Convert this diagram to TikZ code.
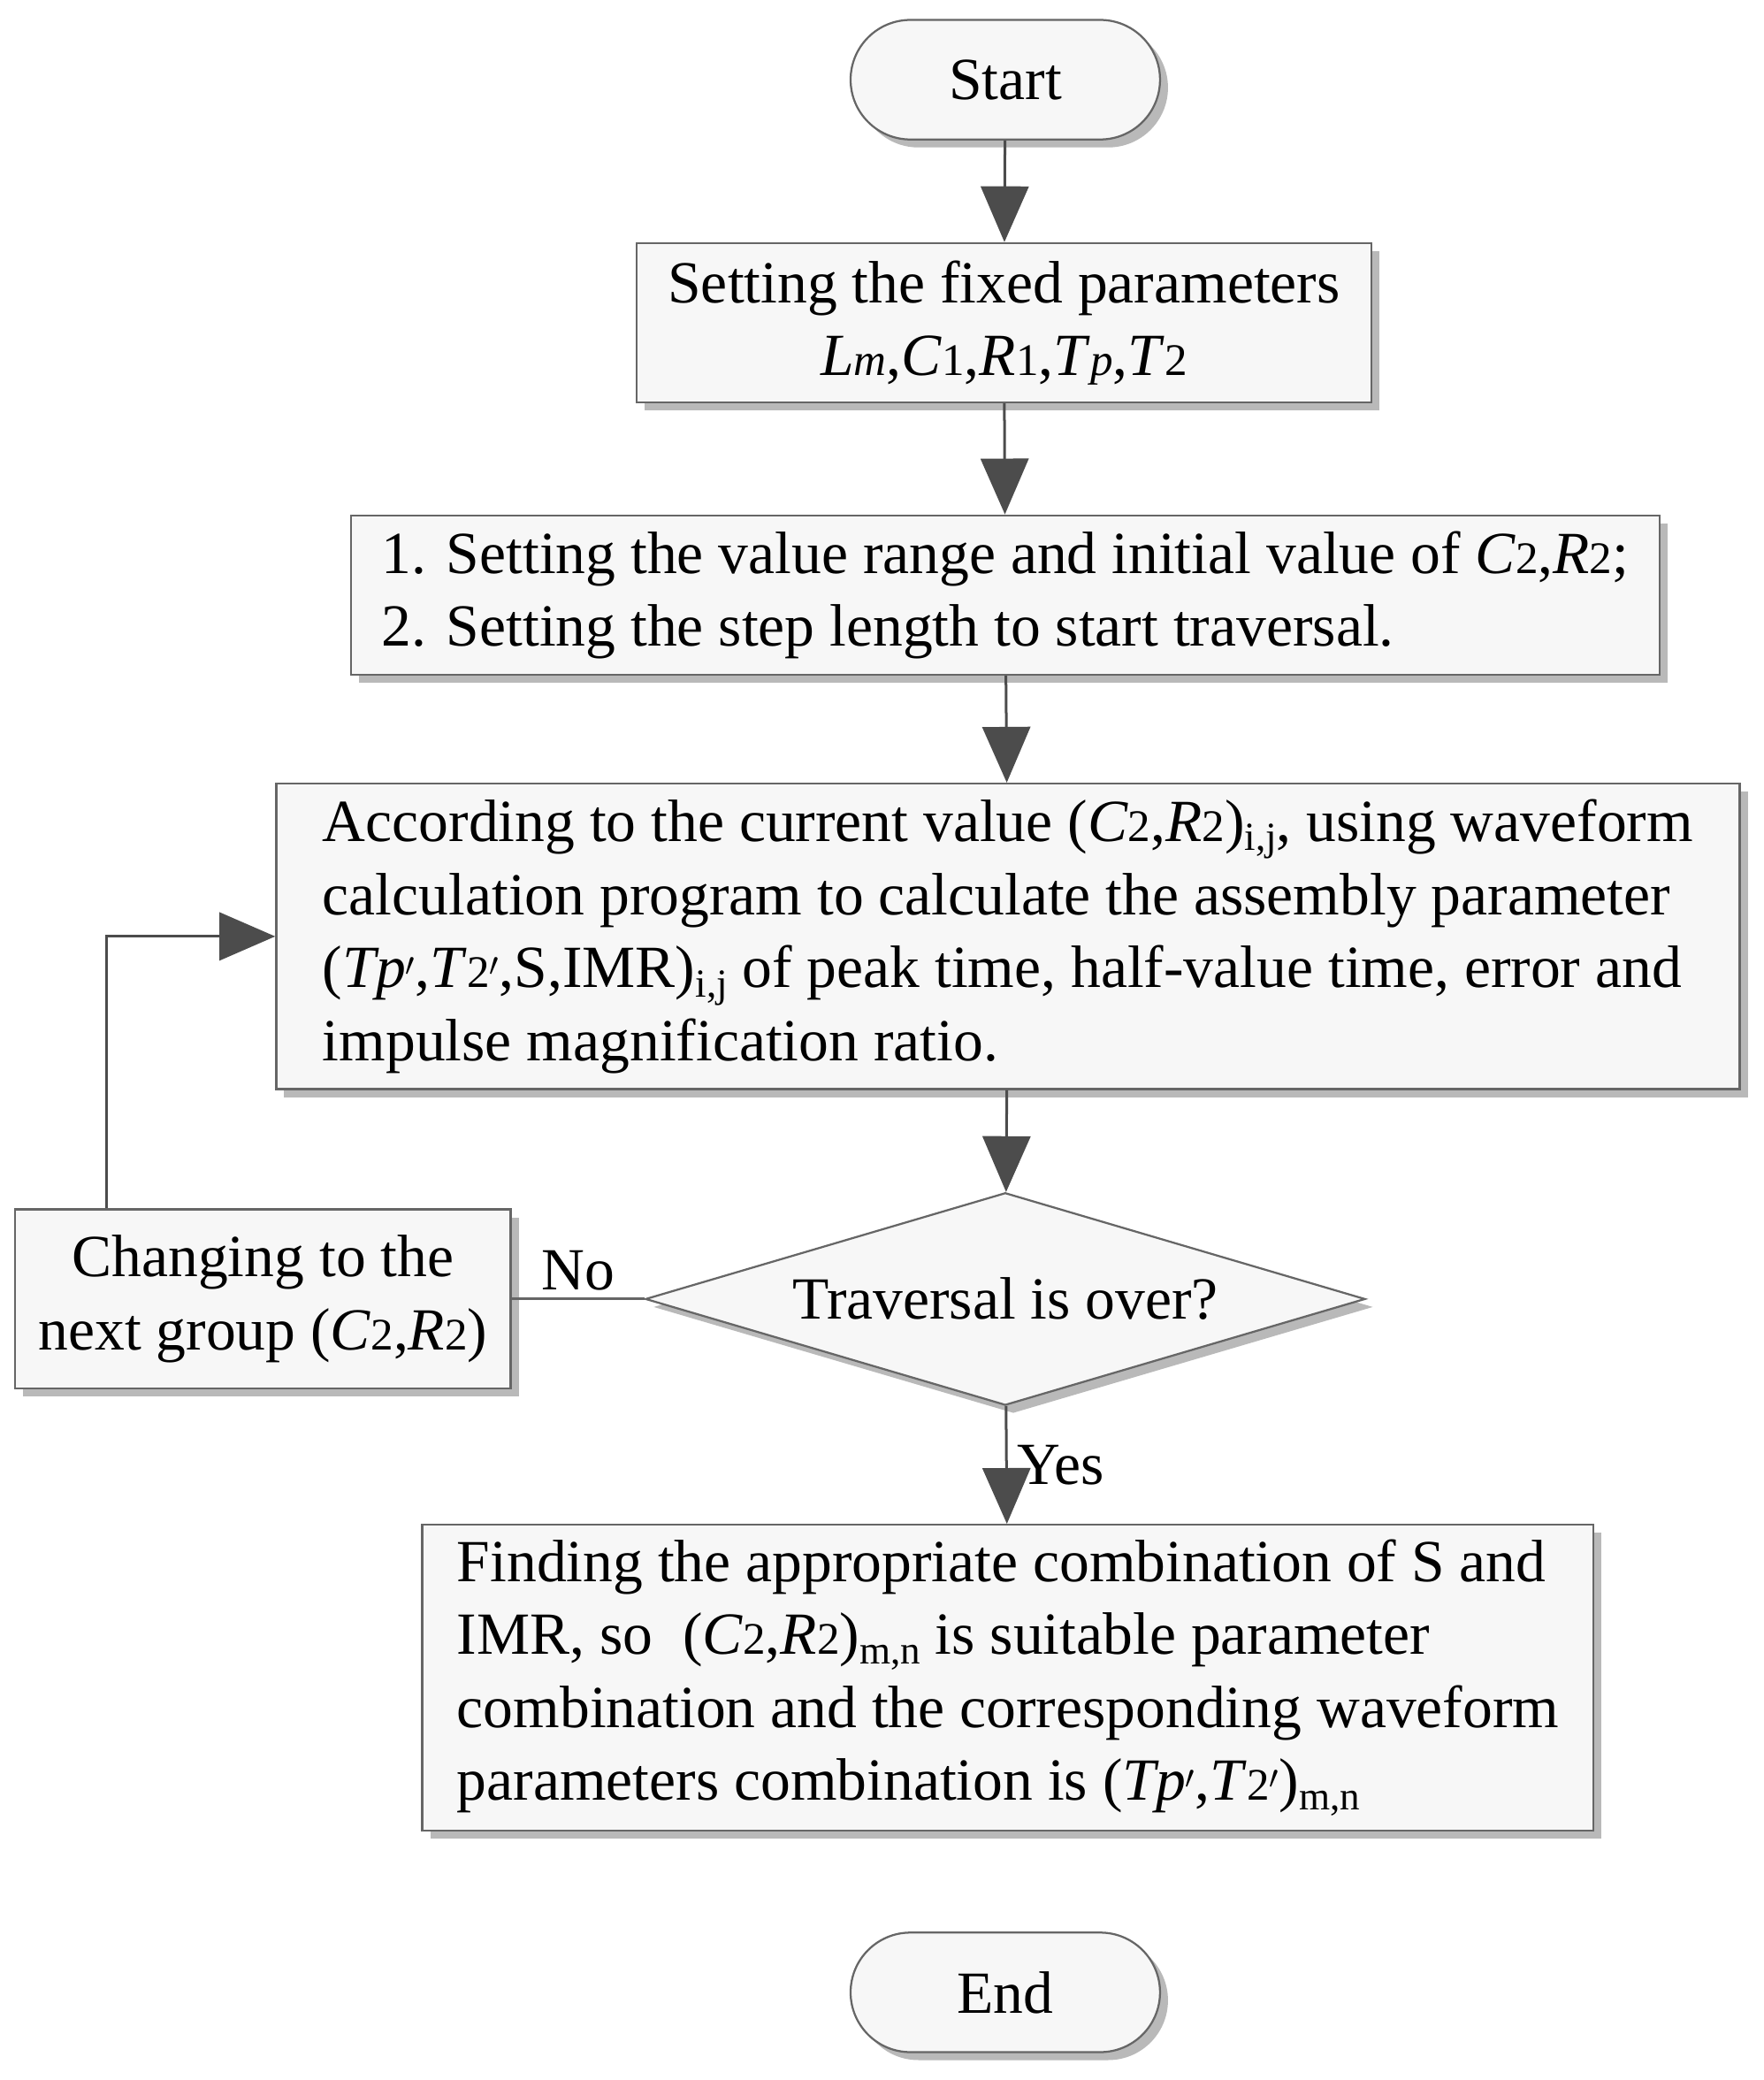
\documentclass[tikz,border=0pt]{standalone}
\usepackage{fontspec}
\setmainfont{Liberation Serif}
\usetikzlibrary{arrows.meta,shapes.geometric,shadows}
\newcommand{\lsub}[1]{{\fontsize{34}{34}\selectfont #1}}
\newcommand{\lsm}[1]{\raisebox{-7pt}{\fontsize{30}{30}\selectfont #1}}
\begin{document}
\begin{tikzpicture}[x=1pt,y=-1pt,
  every node/.style={font=\fontsize{45}{55}\selectfont},
  box/.style={draw=gray!80!black,line width=1.5pt,fill=gray!6,
    drop shadow={shadow xshift=6pt,shadow yshift=-6pt,fill=gray!55,opacity=1},
    inner sep=0pt},
  term/.style={box,rounded corners=45pt},
  arr/.style={draw=gray!80!black,line width=2pt,-{Triangle[width=36pt,length=42pt]},color=black!70},
  ln/.style={draw=gray!80!black,line width=2pt}]
\useasboundingbox (0,0) rectangle (1328,1566);
\node[term,minimum width=233pt,minimum height=90pt] (s) at (757,60) {Start};
\node[box,minimum width=553pt,minimum height=120pt,align=center] (b1) at (756,243)
 {Setting the fixed parameters\\ \textit{L}\lsub{\textit{m}},\textit{C}\lsub{1},\textit{R}\lsub{1},\textit{T}\lsub{\textit{p}},\textit{T}\lsub{2}};
\node[box,minimum width=985pt,minimum height=120pt,align=left] (b2) at (757,448)
 {1. Setting the value range and initial value of \textit{C}\lsub{2},\textit{R}\lsub{2};\\2. Setting the step length to start traversal.};
\node[box,minimum width=1102pt,minimum height=230pt,align=left] (b3) at (759,705)
 {According to the current value (\textit{C}\lsub{2},\textit{R}\lsub{2})\lsm{i,j}, using waveform\\
 calculation program to calculate the assembly parameter\\
 (\textit{Tp}$'$,\textit{T}\lsub{2}$'$,S,IMR)\lsm{i,j} of peak time, half-value time, error and\\
 impulse magnification ratio.};
\node[draw=gray!80!black,line width=1.5pt,fill=gray!6,diamond,minimum width=542pt,minimum height=160pt,inner sep=0pt,aspect=3.39,
  drop shadow={shadow xshift=6pt,shadow yshift=-6pt,fill=gray!55,opacity=1}] (d) at (757,978) {Traversal is over?};
\node[box,minimum width=373pt,minimum height=135pt,align=center] (l) at (198,978)
 {Changing to the\\next group (\textit{C}\lsub{2},\textit{R}\lsub{2})};
\node[box,minimum width=882pt,minimum height=230pt,align=left] (b4) at (759,1263)
 {Finding the appropriate combination of S and\\
 IMR, so\ \ (\textit{C}\lsub{2},\textit{R}\lsub{2})\lsm{m,n} is suitable parameter\\
 combination and the corresponding waveform\\
 parameters combination is (\textit{Tp}$'$,\textit{T}\lsub{2}$'$)\lsm{m,n}};
\node[term,minimum width=233pt,minimum height=90pt] (e) at (757,1500) {End};
\draw[arr] (s) -- (b1);
\draw[arr] (b1) -- (b2);
\draw[arr] (b2) -- (b3);
\draw[arr] (b3) -- (d);
\draw[arr] (d) -- node[right,xshift=4pt,text=black] {Yes} (b4);
\draw[ln] (d.west) -- node[above,yshift=2pt] {No} (l.east);
\coordinate (c) at (80,705);
\draw[arr] (l.north -| c) -- (c) -- (b3.west);
\end{tikzpicture}
\end{document}
